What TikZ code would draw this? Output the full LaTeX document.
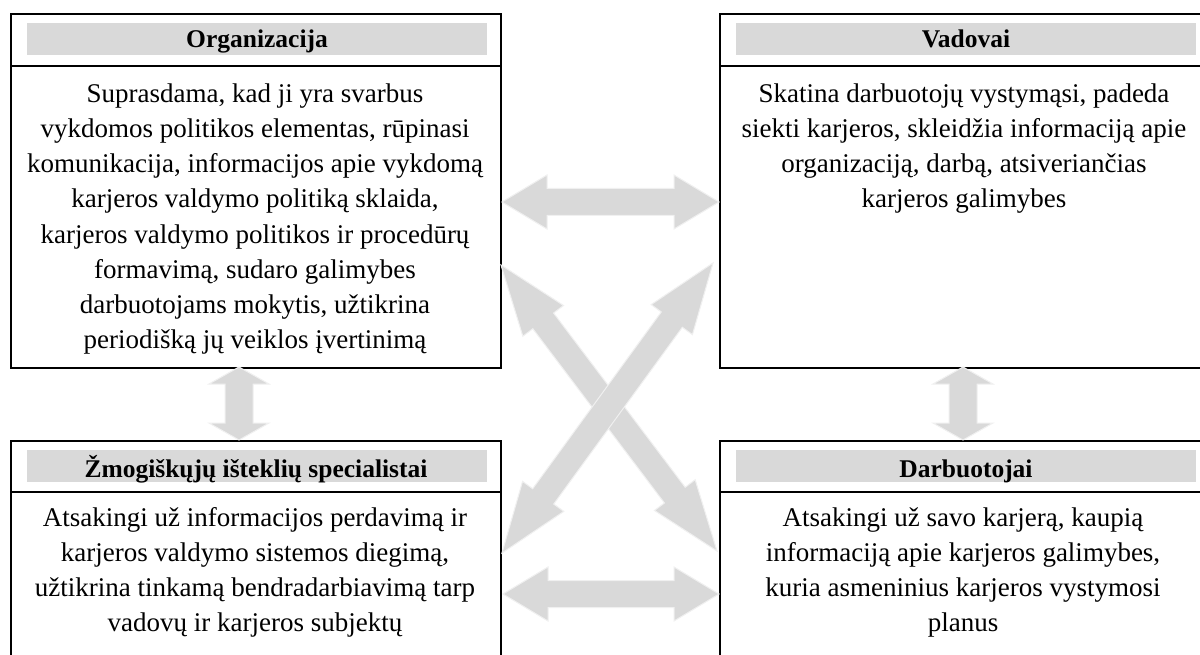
\documentclass[tikz,border=0pt]{standalone}
\usepackage{fontspec}
\setmainfont{Liberation Serif}
\usetikzlibrary{calc}
\definecolor{hdr}{RGB}{217,217,217}
\definecolor{arw}{RGB}{217,217,217}
\definecolor{arwline}{RGB}{240,240,240}
\tikzset{
  box/.style={draw, line width=1.6pt, anchor=north west, minimum width=490pt, inner sep=0pt},
  hbar/.style={fill=hdr, anchor=north west, minimum width=460pt, minimum height=32pt, inner sep=0pt},
  htext/.style={font=\fontsize{25.5}{30}\selectfont\bfseries, anchor=base, inner sep=0pt},
  btext/.style={font=\fontsize{27}{35.2}\selectfont, align=center, anchor=north, inner sep=0pt},
  sepline/.style={line width=1.6pt},
  barrow/.style={fill=arw, draw=arwline, line width=1pt, line join=miter},
}
% #1 start, #2 end, #3 head length, #4 head half width, #5 shaft half width
\newcommand{\blockarrow}[5]{%
  \coordinate (#1-#2-p) at ($(#1)!#3!(#2)$);
  \coordinate (#1-#2-q) at ($(#2)!#3!(#1)$);
  \filldraw[barrow] (#1)
    -- ($(#1-#2-p)!#4!90:(#2)$) -- ($(#1-#2-p)!#5!90:(#2)$)
    -- ($(#1-#2-q)!#5!-90:(#1)$) -- ($(#1-#2-q)!#4!-90:(#1)$)
    -- (#2)
    -- ($(#1-#2-q)!#4!90:(#1)$) -- ($(#1-#2-q)!#5!90:(#1)$)
    -- ($(#1-#2-p)!#5!-90:(#2)$) -- ($(#1-#2-p)!#4!-90:(#2)$) -- cycle;
}
\begin{document}
\begin{tikzpicture}[x=1pt, y=-1pt]
\useasboundingbox (0,0) rectangle (1200,655);
\clip (0,0) rectangle (1200,655);
\fill[white] (0,0) rectangle (1200,655);

% boxes
\node[box, minimum height=354pt] (org) at (10,13) {};
\node[box, minimum height=354pt] (vad) at (719,13) {};
\node[box, minimum height=240pt] (zis) at (10,440) {};
\node[box, minimum height=240pt] (darb) at (719,440) {};

% header bars
\node[hbar] (orgh) at (27,23) {};
\node[hbar] (vadh) at (736,23) {};
\node[hbar] (zish) at (27,450) {};
\node[hbar] (darbh) at (736,450) {};

% separators
\coordinate (s1) at (0,66);
\coordinate (s2) at (0,492);
\draw[sepline] (org.west |- s1) -- (org.east |- s1);
\draw[sepline] (vad.west |- s1) -- (vad.east |- s1);
\draw[sepline] (zis.west |- s2) -- (zis.east |- s2);
\draw[sepline] (darb.west |- s2) -- (darb.east |- s2);

% header texts
\node[htext] (orgt) at (257,48) {Organizacija};
\node[htext] (vadt) at (966,48) {Vadovai};
\node[htext] (zist) at (256,477) {Žmogiškųjų išteklių specialistai};
\node[htext] (darbt) at (966,477) {Darbuotojai};

% body texts
\node[btext] (orgb) at (255,78) {\rule{0pt}{24pt}Suprasdama, kad ji yra svarbus\\
vykdomos politikos elementas, rūpinasi\\
komunikacija, informacijos apie vykdomą\\
karjeros valdymo politiką sklaida,\\
karjeros valdymo politikos ir procedūrų\\
formavimą, sudaro galimybes\\
darbuotojams mokytis, užtikrina\\
periodišką jų veiklos įvertinimą};
\node[btext] (vadb) at (964,78) {\rule{0pt}{24pt}Skatina darbuotojų vystymąsi, padeda\\
siekti karjeros, skleidžia informaciją apie\\
organizaciją, darbą, atsiveriančias\\
karjeros galimybes};
\node[btext] (zisb) at (255,502) {\rule{0pt}{24pt}Atsakingi už informacijos perdavimą ir\\
karjeros valdymo sistemos diegimą,\\
užtikrina tinkamą bendradarbiavimą tarp\\
vadovų ir karjeros subjektų};
\node[btext] (darbb) at (963,502) {\rule{0pt}{24pt}Atsakingi už savo karjerą, kaupią\\
informaciją apie karjeros galimybes,\\
kuria asmeninius karjeros vystymosi\\
planus};

% arrow end points
\coordinate (ht1) at (502,202);
\coordinate (ht2) at (719,202);
\coordinate (hb1) at (503,594);
\coordinate (hb2) at (719,594);
\coordinate (vl1) at (239,367);
\coordinate (vl2) at (239,440);
\coordinate (vr1) at (963,367);
\coordinate (vr2) at (963,440);
\coordinate (da1) at (501,265);
\coordinate (da2) at (717,551);
\coordinate (db1) at (713,263);
\coordinate (db2) at (502,553);

% arrows
\blockarrow{ht1}{ht2}{45pt}{27pt}{13.5pt}
\blockarrow{hb1}{hb2}{45pt}{27pt}{13.5pt}
\blockarrow{vl1}{vl2}{17pt}{30pt}{14pt}
\blockarrow{vr1}{vr2}{17pt}{30pt}{14pt}
\blockarrow{da1}{da2}{70pt}{25.5pt}{13pt}
\blockarrow{db1}{db2}{70pt}{25.5pt}{13pt}
\end{tikzpicture}
\end{document}
